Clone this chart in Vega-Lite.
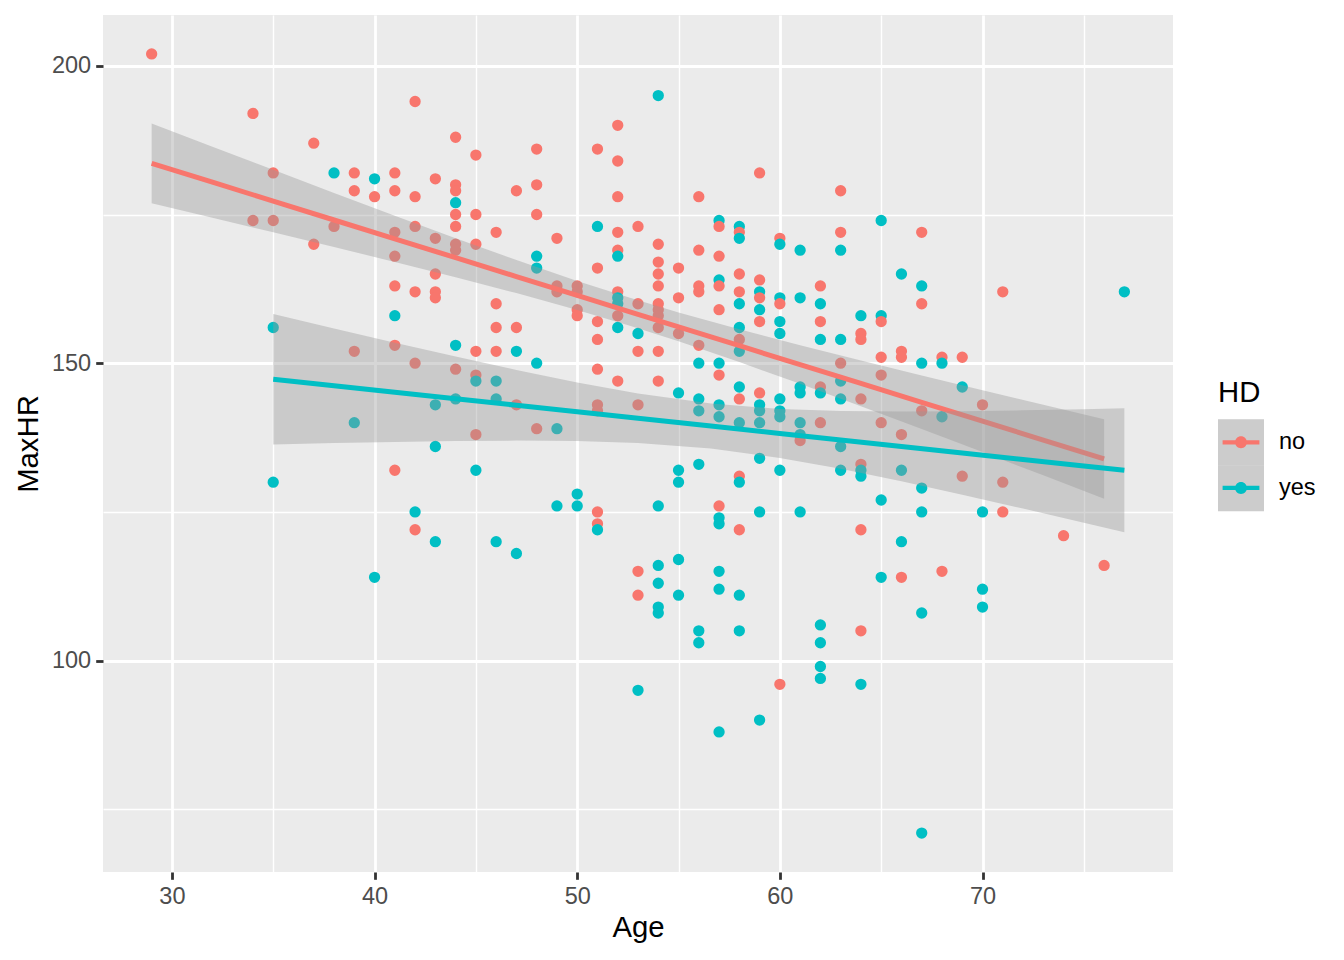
{
  "$schema": "https://vega.github.io/schema/vega-lite/v6.json",
  "width": 1070,
  "height": 857,
  "autosize": {"type": "none"},
  "padding": {"left": 103, "top": 15, "right": 171, "bottom": 88},
  "background": "white",
  "config": {
    "font": "Liberation Sans",
    "view": {"fill": "#EBEBEB", "stroke": null},
    "axis": {
      "domain": false,
      "gridColor": "white",
      "tickColor": "#333333",
      "tickSize": 7.3,
      "tickWidth": 2.8,
      "labelColor": "#4D4D4D",
      "labelFont": "Liberation Sans",
      "labelFontSize": 23.5,
      "labelPadding": 5,
      "titleFont": "Liberation Sans",
      "titleFontSize": 29.3,
      "titleFontWeight": "normal",
      "titleColor": "black",
      "titlePadding": 6
    },
    "axisY": {"titlePadding": 8},
    "legend": {
      "orient": "none",
      "legendX": 1115,
      "legendY": 364,
      "padding": 0,
      "rowPadding": 0,
      "titleFont": "Liberation Sans",
      "titleFontSize": 29.3,
      "titleFontWeight": "normal",
      "titleColor": "black",
      "titlePadding": 11,
      "labelFont": "Liberation Sans",
      "labelFontSize": 23.5,
      "labelColor": "black",
      "labelOffset": 15
    }
  },
  "datasets": {
    "pts": [
      {"Age": 29, "MaxHR": 202, "HD": "no"},
      {"Age": 34, "MaxHR": 192, "HD": "no"}, {"Age": 34, "MaxHR": 174, "HD": "no"},
      {"Age": 35, "MaxHR": 182, "HD": "no"}, {"Age": 35, "MaxHR": 174, "HD": "no"}, {"Age": 35, "MaxHR": 156, "HD": "yes"}, {"Age": 35, "MaxHR": 130, "HD": "yes"},
      {"Age": 37, "MaxHR": 187, "HD": "no"}, {"Age": 37, "MaxHR": 170, "HD": "no"},
      {"Age": 38, "MaxHR": 182, "HD": "yes"}, {"Age": 38, "MaxHR": 173, "HD": "no"},
      {"Age": 39, "MaxHR": 182, "HD": "no"}, {"Age": 39, "MaxHR": 179, "HD": "no"}, {"Age": 39, "MaxHR": 152, "HD": "no"}, {"Age": 39, "MaxHR": 140, "HD": "yes"},
      {"Age": 40, "MaxHR": 181, "HD": "yes"}, {"Age": 40, "MaxHR": 178, "HD": "no"}, {"Age": 40, "MaxHR": 114, "HD": "yes"},
      {"Age": 41, "MaxHR": 182, "HD": "no"}, {"Age": 41, "MaxHR": 179, "HD": "no"}, {"Age": 41, "MaxHR": 172, "HD": "no"}, {"Age": 41, "MaxHR": 168, "HD": "no"}, {"Age": 41, "MaxHR": 163, "HD": "no"}, {"Age": 41, "MaxHR": 158, "HD": "yes"}, {"Age": 41, "MaxHR": 153, "HD": "no"}, {"Age": 41, "MaxHR": 132, "HD": "no"},
      {"Age": 42, "MaxHR": 194, "HD": "no"}, {"Age": 42, "MaxHR": 178, "HD": "no"}, {"Age": 42, "MaxHR": 173, "HD": "no"}, {"Age": 42, "MaxHR": 162, "HD": "no"}, {"Age": 42, "MaxHR": 150, "HD": "no"}, {"Age": 42, "MaxHR": 125, "HD": "yes"}, {"Age": 42, "MaxHR": 122, "HD": "no"},
      {"Age": 43, "MaxHR": 181, "HD": "no"}, {"Age": 43, "MaxHR": 171, "HD": "no"}, {"Age": 43, "MaxHR": 165, "HD": "no"}, {"Age": 43, "MaxHR": 162, "HD": "no"}, {"Age": 43, "MaxHR": 161, "HD": "no"}, {"Age": 43, "MaxHR": 143, "HD": "yes"}, {"Age": 43, "MaxHR": 136, "HD": "yes"}, {"Age": 43, "MaxHR": 120, "HD": "yes"},
      {"Age": 44, "MaxHR": 188, "HD": "no"}, {"Age": 44, "MaxHR": 180, "HD": "no"}, {"Age": 44, "MaxHR": 179, "HD": "no"}, {"Age": 44, "MaxHR": 177, "HD": "yes"}, {"Age": 44, "MaxHR": 175, "HD": "no"}, {"Age": 44, "MaxHR": 173, "HD": "no"}, {"Age": 44, "MaxHR": 170, "HD": "no"}, {"Age": 44, "MaxHR": 169, "HD": "no"}, {"Age": 44, "MaxHR": 153, "HD": "yes"}, {"Age": 44, "MaxHR": 149, "HD": "no"}, {"Age": 44, "MaxHR": 144, "HD": "yes"},
      {"Age": 45, "MaxHR": 185, "HD": "no"}, {"Age": 45, "MaxHR": 175, "HD": "no"}, {"Age": 45, "MaxHR": 170, "HD": "no"}, {"Age": 45, "MaxHR": 152, "HD": "no"}, {"Age": 45, "MaxHR": 148, "HD": "no"}, {"Age": 45, "MaxHR": 147, "HD": "yes"}, {"Age": 45, "MaxHR": 138, "HD": "no"}, {"Age": 45, "MaxHR": 132, "HD": "yes"},
      {"Age": 46, "MaxHR": 172, "HD": "no"}, {"Age": 46, "MaxHR": 160, "HD": "no"}, {"Age": 46, "MaxHR": 156, "HD": "no"}, {"Age": 46, "MaxHR": 152, "HD": "no"}, {"Age": 46, "MaxHR": 147, "HD": "yes"}, {"Age": 46, "MaxHR": 144, "HD": "yes"}, {"Age": 46, "MaxHR": 120, "HD": "yes"},
      {"Age": 47, "MaxHR": 179, "HD": "no"}, {"Age": 47, "MaxHR": 156, "HD": "no"}, {"Age": 47, "MaxHR": 152, "HD": "yes"}, {"Age": 47, "MaxHR": 143, "HD": "no"}, {"Age": 47, "MaxHR": 118, "HD": "yes"},
      {"Age": 48, "MaxHR": 186, "HD": "no"}, {"Age": 48, "MaxHR": 180, "HD": "no"}, {"Age": 48, "MaxHR": 175, "HD": "no"}, {"Age": 48, "MaxHR": 168, "HD": "yes"}, {"Age": 48, "MaxHR": 166, "HD": "yes"}, {"Age": 48, "MaxHR": 150, "HD": "yes"}, {"Age": 48, "MaxHR": 139, "HD": "no"},
      {"Age": 49, "MaxHR": 171, "HD": "no"}, {"Age": 49, "MaxHR": 163, "HD": "no"}, {"Age": 49, "MaxHR": 162, "HD": "no"}, {"Age": 49, "MaxHR": 139, "HD": "yes"}, {"Age": 49, "MaxHR": 126, "HD": "yes"},
      {"Age": 50, "MaxHR": 163, "HD": "no"}, {"Age": 50, "MaxHR": 162, "HD": "no"}, {"Age": 50, "MaxHR": 159, "HD": "no"}, {"Age": 50, "MaxHR": 158, "HD": "no"}, {"Age": 50, "MaxHR": 128, "HD": "yes"}, {"Age": 50, "MaxHR": 126, "HD": "yes"},
      {"Age": 51, "MaxHR": 186, "HD": "no"}, {"Age": 51, "MaxHR": 173, "HD": "yes"}, {"Age": 51, "MaxHR": 166, "HD": "no"}, {"Age": 51, "MaxHR": 157, "HD": "no"}, {"Age": 51, "MaxHR": 154, "HD": "no"}, {"Age": 51, "MaxHR": 149, "HD": "no"}, {"Age": 51, "MaxHR": 143, "HD": "no"}, {"Age": 51, "MaxHR": 142, "HD": "no"}, {"Age": 51, "MaxHR": 125, "HD": "no"}, {"Age": 51, "MaxHR": 123, "HD": "no"}, {"Age": 51, "MaxHR": 122, "HD": "yes"},
      {"Age": 52, "MaxHR": 190, "HD": "no"}, {"Age": 52, "MaxHR": 184, "HD": "no"}, {"Age": 52, "MaxHR": 178, "HD": "no"}, {"Age": 52, "MaxHR": 172, "HD": "no"}, {"Age": 52, "MaxHR": 169, "HD": "no"}, {"Age": 52, "MaxHR": 168, "HD": "yes"}, {"Age": 52, "MaxHR": 162, "HD": "no"}, {"Age": 52, "MaxHR": 161, "HD": "yes"}, {"Age": 52, "MaxHR": 160, "HD": "yes"}, {"Age": 52, "MaxHR": 158, "HD": "no"}, {"Age": 52, "MaxHR": 156, "HD": "yes"}, {"Age": 52, "MaxHR": 147, "HD": "no"},
      {"Age": 53, "MaxHR": 173, "HD": "no"}, {"Age": 53, "MaxHR": 160, "HD": "no"}, {"Age": 53, "MaxHR": 155, "HD": "yes"}, {"Age": 53, "MaxHR": 152, "HD": "no"}, {"Age": 53, "MaxHR": 143, "HD": "no"}, {"Age": 53, "MaxHR": 115, "HD": "no"}, {"Age": 53, "MaxHR": 111, "HD": "no"}, {"Age": 53, "MaxHR": 95, "HD": "yes"},
      {"Age": 54, "MaxHR": 195, "HD": "yes"}, {"Age": 54, "MaxHR": 170, "HD": "no"}, {"Age": 54, "MaxHR": 167, "HD": "no"}, {"Age": 54, "MaxHR": 165, "HD": "no"}, {"Age": 54, "MaxHR": 163, "HD": "no"}, {"Age": 54, "MaxHR": 160, "HD": "no"}, {"Age": 54, "MaxHR": 159, "HD": "no"}, {"Age": 54, "MaxHR": 158, "HD": "no"}, {"Age": 54, "MaxHR": 156, "HD": "no"}, {"Age": 54, "MaxHR": 152, "HD": "no"}, {"Age": 54, "MaxHR": 147, "HD": "no"}, {"Age": 54, "MaxHR": 126, "HD": "yes"}, {"Age": 54, "MaxHR": 116, "HD": "yes"}, {"Age": 54, "MaxHR": 113, "HD": "yes"}, {"Age": 54, "MaxHR": 109, "HD": "yes"}, {"Age": 54, "MaxHR": 108, "HD": "yes"},
      {"Age": 55, "MaxHR": 166, "HD": "no"}, {"Age": 55, "MaxHR": 161, "HD": "no"}, {"Age": 55, "MaxHR": 155, "HD": "no"}, {"Age": 55, "MaxHR": 145, "HD": "yes"}, {"Age": 55, "MaxHR": 132, "HD": "yes"}, {"Age": 55, "MaxHR": 130, "HD": "yes"}, {"Age": 55, "MaxHR": 117, "HD": "yes"}, {"Age": 55, "MaxHR": 111, "HD": "yes"},
      {"Age": 56, "MaxHR": 178, "HD": "no"}, {"Age": 56, "MaxHR": 169, "HD": "no"}, {"Age": 56, "MaxHR": 163, "HD": "no"}, {"Age": 56, "MaxHR": 162, "HD": "no"}, {"Age": 56, "MaxHR": 153, "HD": "no"}, {"Age": 56, "MaxHR": 150, "HD": "yes"}, {"Age": 56, "MaxHR": 144, "HD": "yes"}, {"Age": 56, "MaxHR": 142, "HD": "yes"}, {"Age": 56, "MaxHR": 133, "HD": "yes"}, {"Age": 56, "MaxHR": 105, "HD": "yes"}, {"Age": 56, "MaxHR": 103, "HD": "yes"},
      {"Age": 57, "MaxHR": 174, "HD": "yes"}, {"Age": 57, "MaxHR": 173, "HD": "no"}, {"Age": 57, "MaxHR": 168, "HD": "no"}, {"Age": 57, "MaxHR": 164, "HD": "yes"}, {"Age": 57, "MaxHR": 163, "HD": "no"}, {"Age": 57, "MaxHR": 159, "HD": "no"}, {"Age": 57, "MaxHR": 150, "HD": "yes"}, {"Age": 57, "MaxHR": 148, "HD": "no"}, {"Age": 57, "MaxHR": 143, "HD": "yes"}, {"Age": 57, "MaxHR": 141, "HD": "yes"}, {"Age": 57, "MaxHR": 126, "HD": "no"}, {"Age": 57, "MaxHR": 124, "HD": "yes"}, {"Age": 57, "MaxHR": 123, "HD": "yes"}, {"Age": 57, "MaxHR": 115, "HD": "yes"}, {"Age": 57, "MaxHR": 112, "HD": "yes"}, {"Age": 57, "MaxHR": 88, "HD": "yes"},
      {"Age": 58, "MaxHR": 173, "HD": "yes"}, {"Age": 58, "MaxHR": 172, "HD": "no"}, {"Age": 58, "MaxHR": 171, "HD": "yes"}, {"Age": 58, "MaxHR": 165, "HD": "no"}, {"Age": 58, "MaxHR": 162, "HD": "no"}, {"Age": 58, "MaxHR": 160, "HD": "yes"}, {"Age": 58, "MaxHR": 156, "HD": "yes"}, {"Age": 58, "MaxHR": 154, "HD": "no"}, {"Age": 58, "MaxHR": 152, "HD": "yes"}, {"Age": 58, "MaxHR": 146, "HD": "yes"}, {"Age": 58, "MaxHR": 144, "HD": "no"}, {"Age": 58, "MaxHR": 140, "HD": "yes"}, {"Age": 58, "MaxHR": 131, "HD": "no"}, {"Age": 58, "MaxHR": 130, "HD": "yes"}, {"Age": 58, "MaxHR": 122, "HD": "no"}, {"Age": 58, "MaxHR": 111, "HD": "yes"}, {"Age": 58, "MaxHR": 105, "HD": "yes"},
      {"Age": 59, "MaxHR": 182, "HD": "no"}, {"Age": 59, "MaxHR": 164, "HD": "no"}, {"Age": 59, "MaxHR": 162, "HD": "yes"}, {"Age": 59, "MaxHR": 161, "HD": "no"}, {"Age": 59, "MaxHR": 159, "HD": "yes"}, {"Age": 59, "MaxHR": 157, "HD": "no"}, {"Age": 59, "MaxHR": 145, "HD": "no"}, {"Age": 59, "MaxHR": 143, "HD": "yes"}, {"Age": 59, "MaxHR": 142, "HD": "yes"}, {"Age": 59, "MaxHR": 140, "HD": "yes"}, {"Age": 59, "MaxHR": 134, "HD": "yes"}, {"Age": 59, "MaxHR": 125, "HD": "yes"}, {"Age": 59, "MaxHR": 90, "HD": "yes"},
      {"Age": 60, "MaxHR": 171, "HD": "no"}, {"Age": 60, "MaxHR": 170, "HD": "yes"}, {"Age": 60, "MaxHR": 161, "HD": "yes"}, {"Age": 60, "MaxHR": 160, "HD": "no"}, {"Age": 60, "MaxHR": 157, "HD": "yes"}, {"Age": 60, "MaxHR": 155, "HD": "yes"}, {"Age": 60, "MaxHR": 144, "HD": "yes"}, {"Age": 60, "MaxHR": 142, "HD": "yes"}, {"Age": 60, "MaxHR": 141, "HD": "yes"}, {"Age": 60, "MaxHR": 132, "HD": "yes"}, {"Age": 60, "MaxHR": 96, "HD": "no"},
      {"Age": 61, "MaxHR": 169, "HD": "yes"}, {"Age": 61, "MaxHR": 161, "HD": "yes"}, {"Age": 61, "MaxHR": 146, "HD": "yes"}, {"Age": 61, "MaxHR": 145, "HD": "yes"}, {"Age": 61, "MaxHR": 140, "HD": "yes"}, {"Age": 61, "MaxHR": 138, "HD": "yes"}, {"Age": 61, "MaxHR": 137, "HD": "no"}, {"Age": 61, "MaxHR": 125, "HD": "yes"},
      {"Age": 62, "MaxHR": 163, "HD": "no"}, {"Age": 62, "MaxHR": 160, "HD": "yes"}, {"Age": 62, "MaxHR": 157, "HD": "no"}, {"Age": 62, "MaxHR": 154, "HD": "yes"}, {"Age": 62, "MaxHR": 146, "HD": "no"}, {"Age": 62, "MaxHR": 145, "HD": "yes"}, {"Age": 62, "MaxHR": 140, "HD": "no"}, {"Age": 62, "MaxHR": 106, "HD": "yes"}, {"Age": 62, "MaxHR": 103, "HD": "yes"}, {"Age": 62, "MaxHR": 99, "HD": "yes"}, {"Age": 62, "MaxHR": 97, "HD": "yes"},
      {"Age": 63, "MaxHR": 179, "HD": "no"}, {"Age": 63, "MaxHR": 172, "HD": "no"}, {"Age": 63, "MaxHR": 169, "HD": "yes"}, {"Age": 63, "MaxHR": 154, "HD": "yes"}, {"Age": 63, "MaxHR": 150, "HD": "no"}, {"Age": 63, "MaxHR": 147, "HD": "yes"}, {"Age": 63, "MaxHR": 144, "HD": "yes"}, {"Age": 63, "MaxHR": 136, "HD": "yes"}, {"Age": 63, "MaxHR": 132, "HD": "yes"},
      {"Age": 64, "MaxHR": 158, "HD": "yes"}, {"Age": 64, "MaxHR": 155, "HD": "no"}, {"Age": 64, "MaxHR": 154, "HD": "no"}, {"Age": 64, "MaxHR": 144, "HD": "no"}, {"Age": 64, "MaxHR": 133, "HD": "no"}, {"Age": 64, "MaxHR": 132, "HD": "yes"}, {"Age": 64, "MaxHR": 131, "HD": "yes"}, {"Age": 64, "MaxHR": 122, "HD": "no"}, {"Age": 64, "MaxHR": 105, "HD": "no"}, {"Age": 64, "MaxHR": 96, "HD": "yes"},
      {"Age": 65, "MaxHR": 174, "HD": "yes"}, {"Age": 65, "MaxHR": 158, "HD": "yes"}, {"Age": 65, "MaxHR": 157, "HD": "no"}, {"Age": 65, "MaxHR": 151, "HD": "no"}, {"Age": 65, "MaxHR": 148, "HD": "no"}, {"Age": 65, "MaxHR": 140, "HD": "no"}, {"Age": 65, "MaxHR": 127, "HD": "yes"}, {"Age": 65, "MaxHR": 114, "HD": "yes"},
      {"Age": 66, "MaxHR": 165, "HD": "yes"}, {"Age": 66, "MaxHR": 152, "HD": "no"}, {"Age": 66, "MaxHR": 151, "HD": "no"}, {"Age": 66, "MaxHR": 138, "HD": "no"}, {"Age": 66, "MaxHR": 132, "HD": "yes"}, {"Age": 66, "MaxHR": 120, "HD": "yes"}, {"Age": 66, "MaxHR": 114, "HD": "no"},
      {"Age": 67, "MaxHR": 172, "HD": "no"}, {"Age": 67, "MaxHR": 163, "HD": "yes"}, {"Age": 67, "MaxHR": 160, "HD": "no"}, {"Age": 67, "MaxHR": 150, "HD": "yes"}, {"Age": 67, "MaxHR": 142, "HD": "no"}, {"Age": 67, "MaxHR": 129, "HD": "yes"}, {"Age": 67, "MaxHR": 125, "HD": "yes"}, {"Age": 67, "MaxHR": 108, "HD": "yes"}, {"Age": 67, "MaxHR": 71, "HD": "yes"},
      {"Age": 68, "MaxHR": 151, "HD": "no"}, {"Age": 68, "MaxHR": 150, "HD": "yes"}, {"Age": 68, "MaxHR": 141, "HD": "yes"}, {"Age": 68, "MaxHR": 115, "HD": "no"},
      {"Age": 69, "MaxHR": 151, "HD": "no"}, {"Age": 69, "MaxHR": 146, "HD": "yes"}, {"Age": 69, "MaxHR": 131, "HD": "no"},
      {"Age": 70, "MaxHR": 143, "HD": "no"}, {"Age": 70, "MaxHR": 125, "HD": "yes"}, {"Age": 70, "MaxHR": 112, "HD": "yes"}, {"Age": 70, "MaxHR": 109, "HD": "yes"},
      {"Age": 71, "MaxHR": 162, "HD": "no"}, {"Age": 71, "MaxHR": 130, "HD": "no"}, {"Age": 71, "MaxHR": 125, "HD": "no"},
      {"Age": 74, "MaxHR": 121, "HD": "no"},
      {"Age": 76, "MaxHR": 116, "HD": "no"},
      {"Age": 77, "MaxHR": 162, "HD": "yes"}
    ],
    "smooth": [
      {"HD": "no", "Age": 29, "fit": 183.6, "lo": 176.88, "hi": 190.32},
      {"HD": "no", "Age": 32, "fit": 180.43, "lo": 174.45, "hi": 186.41},
      {"HD": "no", "Age": 35, "fit": 177.26, "lo": 172.01, "hi": 182.51},
      {"HD": "no", "Age": 38, "fit": 174.08, "lo": 169.53, "hi": 178.63},
      {"HD": "no", "Age": 41, "fit": 170.91, "lo": 167.03, "hi": 174.79},
      {"HD": "no", "Age": 44, "fit": 167.74, "lo": 164.46, "hi": 171.02},
      {"HD": "no", "Age": 47, "fit": 164.57, "lo": 161.79, "hi": 167.35},
      {"HD": "no", "Age": 50, "fit": 161.39, "lo": 158.94, "hi": 163.84},
      {"HD": "no", "Age": 52.6, "fit": 158.65, "lo": 156.3, "hi": 161.0},
      {"HD": "no", "Age": 55, "fit": 156.11, "lo": 153.68, "hi": 158.54},
      {"HD": "no", "Age": 58, "fit": 152.94, "lo": 150.19, "hi": 155.69},
      {"HD": "no", "Age": 61, "fit": 149.77, "lo": 146.53, "hi": 153.01},
      {"HD": "no", "Age": 64, "fit": 146.6, "lo": 142.76, "hi": 150.44},
      {"HD": "no", "Age": 67, "fit": 143.42, "lo": 138.92, "hi": 147.92},
      {"HD": "no", "Age": 70, "fit": 140.25, "lo": 135.05, "hi": 145.45},
      {"HD": "no", "Age": 73, "fit": 137.08, "lo": 131.15, "hi": 143.01},
      {"HD": "no", "Age": 76, "fit": 133.9, "lo": 127.23, "hi": 140.57},
      {"HD": "yes", "Age": 35, "fit": 147.3, "lo": 136.33, "hi": 158.27},
      {"HD": "yes", "Age": 38, "fit": 146.21, "lo": 136.57, "hi": 155.85},
      {"HD": "yes", "Age": 41, "fit": 145.11, "lo": 136.77, "hi": 153.45},
      {"HD": "yes", "Age": 44, "fit": 144.02, "lo": 136.92, "hi": 151.12},
      {"HD": "yes", "Age": 47, "fit": 142.93, "lo": 136.99, "hi": 148.87},
      {"HD": "yes", "Age": 50, "fit": 141.83, "lo": 136.91, "hi": 146.75},
      {"HD": "yes", "Age": 53, "fit": 140.74, "lo": 136.59, "hi": 144.89},
      {"HD": "yes", "Age": 56.6, "fit": 139.43, "lo": 135.65, "hi": 143.21},
      {"HD": "yes", "Age": 60, "fit": 138.19, "lo": 134.08, "hi": 142.3},
      {"HD": "yes", "Age": 63, "fit": 137.1, "lo": 132.24, "hi": 141.96},
      {"HD": "yes", "Age": 66, "fit": 136.01, "lo": 130.15, "hi": 141.87},
      {"HD": "yes", "Age": 69, "fit": 134.91, "lo": 127.89, "hi": 141.93},
      {"HD": "yes", "Age": 72, "fit": 133.82, "lo": 125.56, "hi": 142.08},
      {"HD": "yes", "Age": 75, "fit": 132.73, "lo": 123.18, "hi": 142.28},
      {"HD": "yes", "Age": 77, "fit": 132.0, "lo": 121.57, "hi": 142.43}
    ]
  },
  "encoding": {
    "x": {
      "field": "Age",
      "type": "quantitative",
      "title": "Age",
      "scale": {"domain": [26.6, 79.4], "nice": false, "zero": false},
      "axis": {
        "values": [30, 35, 40, 45, 50, 55, 60, 65, 70, 75],
        "labelExpr": "datum.value % 10 === 0 ? datum.label : ''",
        "gridWidth": {"condition": {"test": "datum.value % 10 === 0", "value": 2.8}, "value": 1.4},
        "tickOpacity": {"condition": {"test": "datum.value % 10 === 0", "value": 1}, "value": 0}
      }
    }
  },
  "layer": [
    {
      "data": {"name": "pts"},
      "mark": {"type": "point", "filled": true, "size": 128, "opacity": 1, "strokeWidth": 0},
      "encoding": {
        "y": {
          "field": "MaxHR",
          "type": "quantitative",
          "title": "MaxHR",
          "scale": {"domain": [64.45, 208.55], "nice": false, "zero": false},
          "axis": {
            "values": [75, 100, 125, 150, 175, 200],
            "labelExpr": "datum.value % 50 === 0 ? datum.label : ''",
            "gridWidth": {"condition": {"test": "datum.value % 50 === 0", "value": 2.8}, "value": 1.4},
            "tickOpacity": {"condition": {"test": "datum.value % 50 === 0", "value": 1}, "value": 0}
          }
        },
        "color": {
          "field": "HD",
          "type": "nominal",
          "scale": {"domain": ["no", "yes"], "range": ["#F8766D", "#00BFC4"]},
          "legend": {
            "title": "HD",
            "zindex": 1,
            "rowPadding": 10.6,
            "symbolType": "M-0.8,-0.093H0.8V0.093H-0.8Z M0.26,0A0.26,0.26,0,1,1,-0.26,0A0.26,0.26,0,1,1,0.26,0Z",
            "symbolSize": 2116,
            "symbolStrokeWidth": 0,
            "symbolOpacity": 1
          }
        }
      }
    },
    {
      "data": {"name": "smooth"},
      "transform": [{"filter": "datum.HD === 'no'"}],
      "mark": {"type": "area", "opacity": 0.4},
      "encoding": {
        "y": {
          "field": "lo",
          "type": "quantitative",
          "title": "MaxHR",
          "axis": {
            "values": [75, 100, 125, 150, 175, 200],
            "labelExpr": "datum.value % 50 === 0 ? datum.label : ''",
            "gridWidth": {"condition": {"test": "datum.value % 50 === 0", "value": 2.8}, "value": 1.4},
            "tickOpacity": {"condition": {"test": "datum.value % 50 === 0", "value": 1}, "value": 0}
          }
        },
        "y2": {"field": "hi"},
        "fill": {
          "field": "HD",
          "type": "nominal",
          "scale": {"range": ["#999999", "#999999"]},
          "legend": {
            "title": "HD",
            "zindex": 0,
            "titleOpacity": 0,
            "labelExpr": "''",
            "titlePadding": 11,
            "symbolType": "square",
            "symbolSize": 2116,
            "symbolStrokeWidth": 0,
            "symbolOpacity": 0.5
          }
        }
      }
    },
    {
      "data": {"name": "smooth"},
      "transform": [{"filter": "datum.HD === 'no'"}],
      "mark": {"type": "line", "color": "#F8766D", "strokeWidth": 5},
      "encoding": {
        "y": {
          "field": "fit",
          "type": "quantitative",
          "title": "MaxHR",
          "axis": {
            "values": [75, 100, 125, 150, 175, 200],
            "labelExpr": "datum.value % 50 === 0 ? datum.label : ''",
            "gridWidth": {"condition": {"test": "datum.value % 50 === 0", "value": 2.8}, "value": 1.4},
            "tickOpacity": {"condition": {"test": "datum.value % 50 === 0", "value": 1}, "value": 0}
          }
        }
      }
    },
    {
      "data": {"name": "smooth"},
      "transform": [{"filter": "datum.HD === 'yes'"}],
      "mark": {"type": "area", "opacity": 0.4},
      "encoding": {
        "y": {
          "field": "lo",
          "type": "quantitative",
          "title": "MaxHR",
          "axis": {
            "values": [75, 100, 125, 150, 175, 200],
            "labelExpr": "datum.value % 50 === 0 ? datum.label : ''",
            "gridWidth": {"condition": {"test": "datum.value % 50 === 0", "value": 2.8}, "value": 1.4},
            "tickOpacity": {"condition": {"test": "datum.value % 50 === 0", "value": 1}, "value": 0}
          }
        },
        "y2": {"field": "hi"},
        "fill": {
          "field": "HD",
          "type": "nominal",
          "scale": {"range": ["#999999", "#999999"]},
          "legend": {
            "title": "HD",
            "zindex": 0,
            "titleOpacity": 0,
            "labelExpr": "''",
            "titlePadding": 11,
            "symbolType": "square",
            "symbolSize": 2116,
            "symbolStrokeWidth": 0,
            "symbolOpacity": 0.5
          }
        }
      }
    },
    {
      "data": {"name": "smooth"},
      "transform": [{"filter": "datum.HD === 'yes'"}],
      "mark": {"type": "line", "color": "#00BFC4", "strokeWidth": 5},
      "encoding": {
        "y": {
          "field": "fit",
          "type": "quantitative",
          "title": "MaxHR",
          "axis": {
            "values": [75, 100, 125, 150, 175, 200],
            "labelExpr": "datum.value % 50 === 0 ? datum.label : ''",
            "gridWidth": {"condition": {"test": "datum.value % 50 === 0", "value": 2.8}, "value": 1.4},
            "tickOpacity": {"condition": {"test": "datum.value % 50 === 0", "value": 1}, "value": 0}
          }
        }
      }
    }
  ]
}
